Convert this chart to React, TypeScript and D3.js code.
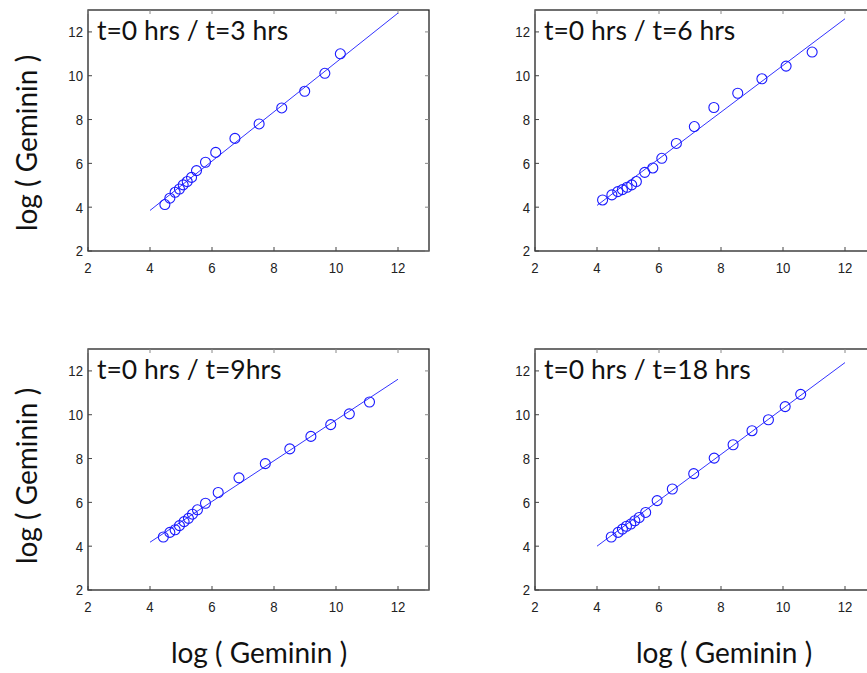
import React from "react";
import * as d3 from "d3";

const titles = ["t=0 hrs / t=3 hrs", "t=0 hrs / t=6 hrs", "t=0 hrs / t=9hrs", "t=0 hrs / t=18 hrs"];

const xs3 = [4.48, 4.64, 4.81, 4.95, 5.07, 5.2, 5.34, 5.5, 5.79, 6.12, 6.74, 7.52, 8.25, 8.99, 9.64, 10.14];
const ys3 = [4.12, 4.41, 4.68, 4.83, 5.02, 5.17, 5.36, 5.67, 6.05, 6.5, 7.14, 7.8, 8.53, 9.29, 10.11, 11.0];

const xs6 = [4.18, 4.48, 4.67, 4.82, 4.97, 5.12, 5.27, 5.54, 5.8, 6.09, 6.56, 7.14, 7.77, 8.54, 9.32, 10.1, 10.94];
const ys6 = [4.33, 4.56, 4.71, 4.8, 4.91, 5.02, 5.17, 5.59, 5.79, 6.23, 6.91, 7.68, 8.55, 9.2, 9.86, 10.44, 11.08];

const xs9 = [4.43, 4.64, 4.81, 4.95, 5.1, 5.24, 5.37, 5.53, 5.79, 6.2, 6.87, 7.72, 8.51, 9.19, 9.83, 10.43, 11.08];
const ys9 = [4.42, 4.63, 4.75, 4.94, 5.12, 5.27, 5.46, 5.66, 5.96, 6.45, 7.12, 7.77, 8.44, 9.01, 9.55, 10.04, 10.58];

const xs18 = [4.46, 4.68, 4.82, 4.95, 5.09, 5.22, 5.36, 5.57, 5.94, 6.43, 7.12, 7.78, 8.39, 9.0, 9.53, 10.07, 10.57];
const ys18 = [4.42, 4.63, 4.78, 4.91, 5.01, 5.16, 5.31, 5.54, 6.08, 6.61, 7.31, 8.02, 8.63, 9.27, 9.77, 10.37, 10.93];

// fitted line endpoints: [x1, y1, x2, y2]
const fit3 = [4, 3.85, 12, 12.86];
const fit6 = [4, 4.08, 12, 12.6];
const fit9 = [4, 4.18, 12, 11.62];
const fit18 = [4, 4.0, 12, 12.38];

const xTicks = [2, 4, 6, 8, 10, 12];
const yTicks = [2, 4, 6, 8, 10, 12];
const axisDomain = [2, 13];
const axisLabel = "log ( Geminin )";

const panels = [
  { xs: xs3, ys: ys3, fit: fit3, title: titles[0], left: 88, top: 10 },
  { xs: xs6, ys: ys6, fit: fit6, title: titles[1], left: 535, top: 10 },
  { xs: xs9, ys: ys9, fit: fit9, title: titles[2], left: 88, top: 349 },
  { xs: xs18, ys: ys18, fit: fit18, title: titles[3], left: 535, top: 349 },
];

const W = 341;
const H = 241;
const tickFont = "'Liberation Sans', Arial, sans-serif";
const labelFont = "Lato, 'Open Sans', sans-serif";

function Panel({ p }: { p: (typeof panels)[number] }) {
  const x = d3.scaleLinear().domain(axisDomain).range([p.left, p.left + W]);
  const y = d3.scaleLinear().domain(axisDomain).range([p.top + H, p.top]);
  const [fx1, fy1, fx2, fy2] = p.fit;
  const line = d3.line<[number, number]>().x((d) => x(d[0])).y((d) => y(d[1]));
  return (
    <g>
      <rect x={p.left} y={p.top} width={W} height={H} fill="white" stroke="#222" strokeWidth={1.3} />
      {xTicks.map((t) => (
        <g key={"xt" + t}>
          <line x1={x(t)} x2={x(t)} y1={p.top + H} y2={p.top + H - 4} stroke="#444" />
          <line x1={x(t)} x2={x(t)} y1={p.top} y2={p.top + 4} stroke="#888" />
          <text x={x(t)} y={p.top + H + 22} textAnchor="middle" fontSize={15.5} fontFamily={tickFont} fill="#222" transform={`translate(${x(t)},0) scale(0.85,1) translate(${-x(t)},0)`}>
            {t}
          </text>
        </g>
      ))}
      {yTicks.map((t) => (
        <g key={"yt" + t}>
          <line x1={p.left} x2={p.left + 4} y1={y(t)} y2={y(t)} stroke="#444" />
          <line x1={p.left + W} x2={p.left + W - 4} y1={y(t)} y2={y(t)} stroke="#888" />
          <text x={p.left - 5} y={y(t) + 5.5} textAnchor="end" fontSize={15.5} fontFamily={tickFont} fill="#222" transform={`translate(${p.left - 5},0) scale(0.85,1) translate(${-(p.left - 5)},0)`}>
            {t}
          </text>
        </g>
      ))}
      <path d={line([[fx1, fy1], [fx2, fy2]]) || ""} stroke="#3333ff" strokeWidth={1} fill="none" />
      {p.xs.map((v, i) => (
        <circle key={i} cx={x(v)} cy={y(p.ys[i])} r={5} fill="none" stroke="#1a1aff" strokeWidth={1.1} />
      ))}
      <text x={p.left + 9} y={p.top + 30} fontSize={26.5} fontFamily={labelFont} fill="#111">
        {p.title}
      </text>
    </g>
  );
}

export default function App() {
  return (
    <svg width={867} height={673} style={{ position: "absolute", left: 0, top: 0, background: "white" }}>
      <rect x={0} y={0} width={867} height={673} fill="white" />
      {panels.map((p, i) => (
        <Panel key={i} p={p} />
      ))}
      <text transform="translate(37,143) rotate(-90)" textAnchor="middle" fontSize={28} fontFamily={labelFont} fill="#111">
        {axisLabel}
      </text>
      <text transform="translate(37,476) rotate(-90)" textAnchor="middle" fontSize={28} fontFamily={labelFont} fill="#111">
        {axisLabel}
      </text>
      <text x={259} y={663} textAnchor="middle" fontSize={28} fontFamily={labelFont} fill="#111">
        {axisLabel}
      </text>
      <text x={724} y={663} textAnchor="middle" fontSize={28} fontFamily={labelFont} fill="#111">
        {axisLabel}
      </text>
    </svg>
  );
}
